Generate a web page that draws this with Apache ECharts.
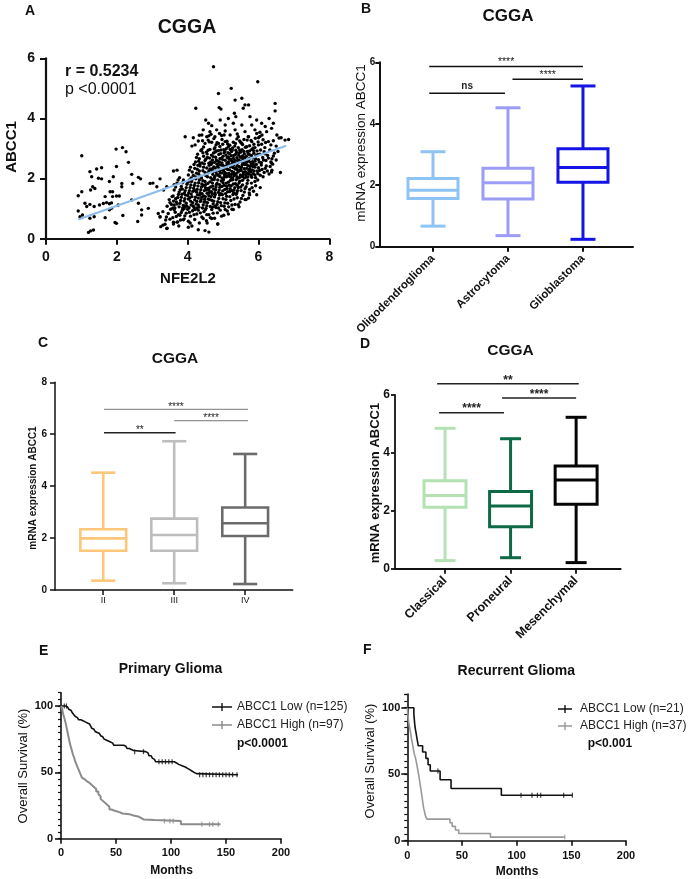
<!DOCTYPE html>
<html>
<head>
<meta charset="utf-8">
<script src="https://cdn.jsdelivr.net/npm/echarts@6/dist/echarts.min.js"></script>
<style>html,body{margin:0;padding:0;background:#fff}#c{width:693px;height:879px}</style>
</head>
<body>
<div id="c"></div>
<script>
// ---------- DATA ----------
// Panel A: NFE2L2 (x) vs ABCC1 (y)
const scatterPts = [
[1.01,2.76],[1.98,2.98],[2.16,3.03],[2.26,2.89],[1.24,2.23],[1.43,2.32],[1.57,2.36],[1.99,2.40],[2.33,2.54],[1.29,2.06],[1.48,2.01],[1.57,1.99],[1.32,1.73],[1.38,1.67],[1.26,1.62],[1.79,1.90],[1.90,2.06],[2.14,1.84],[2.14,1.73],[2.42,2.14],[2.45,1.84],[2.61,2.04],[2.67,1.99],[2.94,1.84],[3.22,1.99],[3.13,1.73],[3.41,1.73],[3.60,2.25],[3.77,2.03],[0.91,1.43],[1.01,1.56],[1.10,1.18],[1.15,1.07],[1.24,1.14],[1.67,1.40],[1.81,1.56],[1.88,1.56],[1.88,1.40],[1.99,1.42],[2.07,1.42],[1.62,1.17],[1.71,1.20],[1.79,1.16],[1.85,1.19],[1.51,1.12],[2.04,1.12],[1.36,1.07],[1.79,0.96],[1.85,1.01],[0.91,0.92],[0.96,0.73],[1.03,0.79],[1.24,0.68],[1.36,0.73],[1.67,0.70],[2.17,0.77],[2.42,1.29],[2.61,1.18],[2.70,0.96],[2.70,0.79],[2.89,1.01],[2.59,0.57],[1.95,0.54],[1.99,0.51],[1.20,0.21],[1.26,0.26],[1.34,0.29],[3.24,0.40],[3.36,0.48],[3.41,0.34],[3.60,0.49],[3.17,0.84],[3.22,0.73],[3.02,1.85],[3.32,1.62],[3.62,1.80],[3.70,2.28],[3.58,1.02],[3.70,0.55],
[4.73,5.72],[5.98,5.22],[5.23,5.00],[4.87,4.83],[4.23,4.34],[4.89,4.36],[4.94,4.31],[5.34,4.61],[5.53,4.67],[5.62,4.45],[5.72,4.45],[5.57,4.34],[5.32,4.17],[5.36,4.06],[6.47,4.50],[6.47,4.25],[5.76,4.06],[5.95,3.95],[6.09,3.84],[6.30,4.00],[6.42,3.84],[4.51,3.95],[4.59,3.84],[4.92,3.95],[5.15,4.00],[4.68,3.76],[5.06,3.78],[5.29,3.84],[5.53,3.78],[5.81,3.78],[6.19,3.73],[6.37,3.67],[4.44,3.62],[4.63,3.56],[4.82,3.62],[5.06,3.58],[5.34,3.62],[5.62,3.56],[5.90,3.62],[6.04,3.54],[6.23,3.56],[3.93,3.39],[4.16,3.36],[4.40,3.45],[4.54,3.39],[4.77,3.39],[4.96,3.43],[5.20,3.45],[5.43,3.39],[5.72,3.39],[6.00,3.36],[6.52,3.45],[6.64,3.36],[6.75,3.28],[4.21,3.12],[4.49,3.17],[4.68,3.21],[4.87,3.17],[5.06,3.23],[5.29,3.21],[5.53,3.17],[5.81,3.23],[6.09,3.14],[6.28,3.23],[4.77,3.03],[5.15,3.06],[5.43,3.03],[5.67,3.06],[5.90,3.03],[6.85,3.30],[6.62,2.20],[6.40,2.48],
[4.12,3.08],[4.33,3.44],[4.42,3.26],[4.61,3.22],[4.66,3.47],[4.74,3.33],[4.83,3.19],[4.91,3.07],[4.99,3.14],[5.03,3.45],[5.11,3.24],[5.19,3.11],[5.27,3.02],[5.35,3.17],[5.39,3.32],[5.47,3.25],[5.55,3.13],[5.59,3.30],[5.63,3.04],[5.71,3.39],[5.75,3.09],[5.79,3.27],[5.87,3.14],[5.91,3.34],[5.99,3.22],[6.04,3.40],[6.13,3.29],[6.18,3.03],[6.35,3.12],[6.42,3.26],[6.50,3.08],[6.58,3.35],
[4.45,3.05],[4.58,3.28],[4.80,3.12],[4.97,3.30],[5.13,3.15],[5.33,3.08],[5.50,3.20],[5.68,3.28],[5.85,3.02],[6.00,3.12],[6.20,3.20],[4.30,3.25],[6.10,3.45],[5.95,3.50],[5.40,3.48],[4.90,3.50],[4.60,3.42],
[4.22,2.55],[4.28,2.81],[4.33,2.66],[4.37,2.93],[4.41,2.52],[4.45,2.74],[4.49,2.60],[4.53,2.88],[4.56,2.70],[4.60,2.51],[4.63,2.97],[4.67,2.78],[4.70,2.62],[4.73,2.85],[4.76,2.54],[4.79,2.71],[4.82,2.92],[4.85,2.58],[4.88,2.80],[4.91,2.66],[4.94,2.95],[4.97,2.52],[5.00,2.74],[5.03,2.86],[5.06,2.61],[5.09,2.99],[5.12,2.70],[5.15,2.55],[5.18,2.83],[5.21,2.64],[5.24,2.90],[5.27,2.50],[5.30,2.77],[5.33,2.60],[5.36,2.94],[5.39,2.69],[5.42,2.53],[5.45,2.85],[5.48,2.72],[5.51,2.57],[5.54,2.96],[5.57,2.66],[5.60,2.82],[5.63,2.51],[5.66,2.74],[5.69,2.90],[5.72,2.60],[5.75,2.79],[5.78,2.54],[5.81,2.97],[5.84,2.68],[5.87,2.84],[5.90,2.58],[5.93,2.76],[5.96,2.92],[6.00,2.63],[6.04,2.81],[6.08,2.53],[6.12,2.70],[6.16,2.89],[6.21,2.60],[6.26,2.77],[6.32,2.95],[6.38,2.66],[6.45,2.84],[4.95,2.68],[5.05,2.90],[5.15,2.72],[5.25,2.58],[5.35,2.80],[5.45,2.62],[5.55,2.75],[5.65,2.58],[5.75,2.92],[4.75,2.98],[4.65,2.55],[5.85,2.50],[5.20,2.97],[5.50,2.88],[4.55,2.82],
[4.31,2.58],[4.43,2.86],[4.51,2.64],[4.58,2.94],[4.62,2.68],[4.69,2.52],[4.72,2.73],[4.78,2.88],[4.81,2.62],[4.87,2.93],[4.90,2.55],[4.93,2.83],[4.99,2.63],[5.02,2.96],[5.08,2.78],[5.11,2.52],[5.14,2.86],[5.17,2.65],[5.23,2.76],[5.26,2.95],[5.29,2.67],[5.32,2.54],[5.38,2.87],[5.41,2.60],[5.44,2.78],[5.47,2.95],[5.53,2.68],[5.56,2.53],[5.59,2.90],[5.62,2.70],[5.68,2.55],[5.71,2.83],[5.74,2.66],[5.80,2.77],[5.83,2.56],[5.86,2.93],[5.92,2.65],[5.98,2.80],[6.02,2.55],[6.06,2.95],[6.14,2.62],[6.19,2.82],[6.28,2.68],[6.35,2.55],[6.42,2.75],[6.50,2.62],[6.55,2.90],[4.25,2.70],[4.35,2.50],[4.40,2.97],
[4.02,2.12],[4.08,2.38],[4.13,2.22],[4.18,2.47],[4.23,2.05],[4.27,2.31],[4.31,2.15],[4.35,2.42],[4.39,2.02],[4.43,2.26],[4.47,2.49],[4.51,2.10],[4.54,2.35],[4.58,2.19],[4.61,2.44],[4.65,2.03],[4.68,2.28],[4.71,2.14],[4.74,2.39],[4.77,2.07],[4.80,2.23],[4.83,2.48],[4.86,2.11],[4.89,2.33],[4.92,2.18],[4.95,2.45],[4.98,2.01],[5.01,2.27],[5.04,2.13],[5.07,2.40],[5.10,2.06],[5.13,2.30],[5.16,2.17],[5.19,2.46],[5.22,2.04],[5.25,2.24],[5.28,2.37],[5.31,2.09],[5.34,2.32],[5.37,2.16],[5.40,2.43],[5.43,2.02],[5.46,2.26],[5.49,2.12],[5.52,2.38],[5.55,2.07],[5.58,2.21],[5.61,2.47],[5.64,2.13],[5.67,2.34],[5.70,2.05],[5.73,2.27],[5.76,2.41],[5.79,2.10],[5.82,2.29],[5.85,2.16],[5.88,2.44],[5.92,2.03],[5.96,2.25],[6.00,2.36],[6.05,2.11],[6.10,2.30],[6.16,2.20],[6.22,2.42],[6.30,2.15],[6.38,2.28],[4.70,2.33],[4.90,2.25],[5.10,2.40],[5.30,2.20],[5.50,2.32],[5.70,2.18],[5.90,2.38],[4.60,2.25],[5.20,2.12],[5.40,2.30],[5.60,2.02],[4.85,2.40],[5.05,2.20],[5.80,2.48],
[4.05,2.28],[4.16,2.10],[4.20,2.34],[4.29,2.44],[4.33,2.25],[4.37,2.08],[4.45,2.38],[4.49,2.20],[4.56,2.06],[4.63,2.32],[4.66,2.47],[4.72,2.22],[4.75,2.03],[4.78,2.35],[4.82,2.15],[4.88,2.46],[4.91,2.07],[4.94,2.30],[4.97,2.19],[5.00,2.44],[5.03,2.04],[5.06,2.34],[5.09,2.16],[5.12,2.48],[5.15,2.08],[5.18,2.29],[5.21,2.39],[5.24,2.14],[5.27,2.02],[5.30,2.45],[5.33,2.13],[5.36,2.36],[5.39,2.06],[5.42,2.22],[5.45,2.40],[5.48,2.04],[5.51,2.27],[5.54,2.46],[5.57,2.14],[5.60,2.33],[5.63,2.23],[5.66,2.05],[5.69,2.44],[5.72,2.15],[5.75,2.32],[5.78,2.22],[5.81,2.04],[5.84,2.40],[5.87,2.25],[5.90,2.12],[5.94,2.47],[5.98,2.17],[6.03,2.27],[6.08,2.45],[6.13,2.06],[6.19,2.34],[6.25,2.25],[6.33,2.40],[4.10,2.02],[4.25,2.18],
[3.62,1.62],[3.70,1.85],[3.76,1.55],[3.82,1.74],[3.88,1.95],[3.93,1.60],[3.98,1.81],[4.03,1.52],[4.07,1.70],[4.11,1.90],[4.15,1.58],[4.19,1.77],[4.23,1.99],[4.27,1.64],[4.31,1.86],[4.35,1.53],[4.39,1.72],[4.43,1.93],[4.47,1.60],[4.51,1.80],[4.55,1.51],[4.59,1.68],[4.63,1.89],[4.67,1.56],[4.71,1.75],[4.75,1.97],[4.79,1.63],[4.83,1.84],[4.87,1.54],[4.91,1.71],[4.95,1.92],[4.99,1.59],[5.03,1.78],[5.07,1.50],[5.11,1.67],[5.15,1.88],[5.19,1.57],[5.23,1.76],[5.27,1.96],[5.31,1.62],[5.35,1.83],[5.39,1.53],[5.43,1.70],[5.47,1.91],[5.51,1.60],[5.55,1.79],[5.60,1.55],[5.65,1.73],[5.70,1.94],[5.75,1.64],[5.80,1.85],[5.86,1.58],[5.92,1.76],[5.98,1.95],[6.05,1.70],[4.40,1.82],[4.60,1.62],[4.80,1.72],[5.00,1.86],[5.20,1.66],[5.40,1.78],[4.50,1.70],[4.90,1.80],[5.30,1.52],[4.20,1.60],[4.70,1.85],[5.10,1.75],[3.85,1.65],[4.05,1.95],
[3.66,1.72],[3.73,1.95],[3.79,1.63],[3.86,1.86],[3.91,1.52],[3.96,1.70],[4.01,1.88],[4.05,1.60],[4.09,1.79],[4.13,1.98],[4.17,1.68],[4.21,1.85],[4.25,1.55],[4.29,1.75],[4.33,1.95],[4.37,1.63],[4.41,1.50],[4.45,1.78],[4.49,1.90],[4.53,1.62],[4.57,1.84],[4.61,1.53],[4.65,1.72],[4.69,1.96],[4.73,1.65],[4.77,1.53],[4.81,1.80],[4.85,1.95],[4.89,1.62],[4.93,1.50],[4.97,1.74],[5.01,1.96],[5.05,1.64],[5.09,1.85],[5.13,1.56],[5.17,1.78],[5.21,1.94],[5.25,1.60],[5.29,1.82],[5.33,1.70],[5.37,1.96],[5.41,1.60],[5.45,1.85],[5.50,1.72],[5.55,1.94],[5.62,1.66],[5.68,1.84],[5.74,1.52],[5.82,1.70],[5.90,1.90],
[3.42,1.08],[3.48,1.30],[3.54,1.14],[3.59,1.42],[3.64,1.02],[3.68,1.22],[3.72,1.37],[3.76,1.06],[3.80,1.27],[3.84,1.48],[3.88,1.11],[3.92,1.33],[3.96,1.18],[4.00,1.44],[4.04,1.03],[4.08,1.25],[4.12,1.40],[4.16,1.09],[4.20,1.29],[4.24,1.15],[4.28,1.46],[4.32,1.05],[4.36,1.24],[4.40,1.38],[4.44,1.12],[4.48,1.31],[4.52,1.01],[4.56,1.20],[4.60,1.43],[4.64,1.07],[4.68,1.28],[4.72,1.16],[4.76,1.39],[4.80,1.04],[4.85,1.23],[4.90,1.45],[4.95,1.10],[5.00,1.33],[5.05,1.19],[5.10,1.41],[5.16,1.06],[5.22,1.27],[5.28,1.47],[5.34,1.14],[5.40,1.36],[5.48,1.22],[5.56,1.44],[5.65,1.30],[5.75,1.46],[3.90,1.00],[4.10,1.12],[4.30,1.35],[4.50,1.22],[4.70,1.48],[3.70,1.15],[4.02,1.32],[4.26,1.02],[4.45,1.42],[3.60,1.25],[4.62,1.30],
[3.50,1.20],[3.56,1.40],[3.62,1.12],[3.66,1.33],[3.74,1.47],[3.78,1.18],[3.82,1.38],[3.86,1.02],[3.90,1.25],[3.94,1.45],[3.98,1.08],[4.06,1.36],[4.10,1.49],[4.14,1.20],[4.18,1.04],[4.22,1.38],[4.26,1.24],[4.30,1.12],[4.34,1.45],[4.38,1.30],[4.42,1.02],[4.46,1.22],[4.50,1.40],[4.54,1.10],[4.58,1.32],[4.66,1.40],[4.70,1.05],[4.74,1.25],[4.78,1.47],[4.83,1.14],[4.88,1.34],[4.93,1.20],[4.98,1.46],[5.03,1.08],[5.08,1.30],[5.13,1.18],[5.19,1.40],[5.25,1.12],[5.31,1.32],[5.37,1.48],[5.45,1.06],[5.52,1.34],
[3.22,0.72],[3.30,0.90],[3.38,0.62],[3.45,0.84],[3.52,0.98],[3.58,0.70],[3.65,0.88],[3.72,0.56],[3.78,0.78],[3.85,0.95],[3.90,0.66],[3.96,0.85],[4.02,0.58],[4.08,0.75],[4.14,0.93],[4.20,0.64],[4.26,0.82],[4.33,0.52],[4.40,0.72],[4.46,0.90],[4.53,0.60],[4.60,0.80],[4.68,0.97],[4.76,0.68],[4.84,0.86],[4.92,0.95],[5.02,0.78],[5.12,0.92],[5.25,0.98],[3.60,0.55],[4.00,0.98],[4.30,0.95],[4.55,0.52],[3.80,0.62],
[3.40,0.72],[3.50,0.65],[3.62,0.96],[3.68,0.74],[3.82,0.87],[3.92,0.76],[4.05,0.88],[4.18,0.80],[4.36,0.86],[4.50,0.96],[4.64,0.70],[4.72,0.85],[4.96,0.75],[5.15,0.82],
[3.30,0.45],[3.42,0.35],[4.02,0.38],[4.12,0.42],[4.49,0.27],[4.60,0.22],[4.85,0.49],[3.75,0.42],[4.30,0.30],
[6.37,2.52],[6.37,2.22],[5.95,1.46],[5.72,1.35],[5.62,1.30],[5.43,1.13],[5.29,0.97],[5.06,0.97],[4.87,1.02],[4.77,1.08],[4.54,0.80],[4.68,0.67],[4.44,0.67],[4.85,0.49],[4.07,0.52],[3.88,0.63],[3.74,0.80],[4.21,0.97],[3.93,1.08]
];
const regLine = [[0.91,0.64],[6.78,3.09]];

// Panel B
const bCats = ['Oligodendroglioma','Astrocytoma','Glioblastoma'];
const bStats = [[0.67,1.57,1.84,2.22,3.09],[0.36,1.55,2.08,2.55,4.52],[0.24,2.10,2.58,3.19,5.23]];
const bSig = [[-0.05,2.0,5.86],[1.06,2.0,5.45],[-0.05,0.96,4.99]];
const bSigText = ['****','****','ns'];

// Panel C
const cCats = ['II','III','IV'];
const cStats = [[0.36,1.51,1.99,2.34,4.52],[0.26,1.51,2.12,2.75,5.73],[0.23,2.08,2.57,3.18,5.24]];
const cSig = [[0.01,2.04,6.96],[1.0,2.04,6.52],[0.01,1.02,6.06]];
const cSigText = ['****','****','**'];

// Panel D
const dCats = ['Classical','Proneural','Mesenchymal'];
const dStats = [[0.28,2.12,2.53,3.04,4.85],[0.38,1.45,2.17,2.67,4.49],[0.21,2.23,3.06,3.55,5.23]];
const dSig = [[-0.12,2.04,6.39],[0.87,2.0,5.90],[-0.09,0.9,5.39]];
const dSigText = ['**','****','****'];

// Panel E: primary glioma KM (months, survival %)
const eLow = [[0,100],[4,99.2],[6,98.4],[7,97.6],[8,96.8],[9,96],[10,95.2],[11,94.4],[11.5,93.6],[12,92.8],[13,92],[14,91.2],[15,90.4],[16,89.6],[18,88.8],[20,88],[22,87.2],[24,86.4],[26,85.6],[27,84.8],[27.5,84],[28,83.2],[29,82.4],[30,81.6],[31,80.8],[32,80],[33,79.2],[35,78.4],[36,77.6],[37,76.8],[38,76],[39,75.2],[40,74.4],[41,73.6],[43,72.8],[45,72],[47,71.2],[48,70.4],[57,69.6],[59,68.8],[60,68],[62,67.2],[64,66.4],[66,65.6],[77,64.8],[79,63.9],[80,62.5],[82,61.6],[83,60.7],[84,59.8],[85,58.9],[86,58],[103,57],[105,56],[107,55],[110,54],[113,53],[115,52],[117,51],[119,50],[121,49],[123,48.2],[161,48.2]];
const eHigh = [[0,100],[1,98],[2,94],[3,91],[4,88],[5,84],[6,80],[7,76],[8,72],[9,69],[10,66],[11,63],[12,61],[13,58],[14,56],[15,54],[16,52],[17,50],[18,48],[19,46],[20,44.5],[22,43],[24,42],[26,40.5],[28,39],[30,37.5],[32,35.5],[34,33.5],[35,32],[36,30],[37,28.5],[38,27],[40,25.5],[42,24],[44,22],[46,21],[49,20],[53,19],[56,18.5],[62,17.5],[66,16.5],[71,15.5],[73,14.5],[75,14],[85,13.3],[109,10.8],[145,10.8]];
const eLowCens = [[3,100],[5,100],[67,65.6],[75,65.6],[89,58],[92,58],[95,58],[98,58],[101,58],[126,48.2],[129,48.2],[132,48.2],[135,48.2],[138,48.2],[141,48.2],[144,48.2],[147,48.2],[150,48.2],[153,48.2],[156,48.2],[160,48.2]];
const eHighCens = [[94,13.3],[99,13.3],[102,13.3],[128,10.8],[135,10.8],[138,10.8],[143,10.8]];

// Panel F: recurrent glioma KM
const fLow = [[0,100],[6,95.2],[6.5,90.5],[7,85.7],[8,81],[9,76.2],[10,71.4],[14,66.7],[17,61.9],[19,57.1],[21,52.4],[30,45.8],[40,39.3],[86,34.2],[151,34.2]];
const fHigh = [[0,100],[0.3,97.3],[0.6,94.6],[0.9,91.9],[1.3,89.2],[1.8,86.5],[2.4,83.8],[3,81.1],[3.5,78.4],[4,75.7],[4.7,73],[5.3,70.3],[5.8,67.6],[6.5,64.9],[7.5,62.2],[8.2,59.5],[8.8,56.8],[9.4,54.1],[10,51.4],[10.6,48.6],[11.1,45.9],[11.6,43.2],[12.1,40.5],[12.6,37.8],[13.1,35.1],[13.6,32.4],[14,29.7],[14.5,27],[15,24.3],[15.8,21.6],[16.5,18.9],[18,16.2],[39,13.5],[41,10.8],[44,8.1],[47,5.4],[76,2.7],[144,2.7]];
const fLowCens = [[28,52.4],[104,34.2],[114,34.2],[119,34.2],[122,34.2],[143,34.2],[151,34.2]];
const fHighCens = [[144,2.7]];

const yTicksKM = [0,50,100];
const xTickLabelsBox = [0,1,2];

// ---------- CHART ----------
const FF = '"Liberation Sans", Arial, Helvetica, sans-serif';
const chart = echarts.init(document.getElementById('c'), null, {renderer:'canvas'});

function T(text, x, y, size, weight, align, rot, color){
  return {type:'text', x:x, y:y, rotation: rot||0, z:100,
    style:{text:text, font: weight+' '+size+'px '+FF, fill: color||'#111',
      align:align||'center', verticalAlign:'middle', textAlign:align||'center', textVerticalAlign:'middle'}};
}

function boxRender(colors, boxW, capW, lw){
  return function(params, api){
    const i = params.dataIndex;
    const x = api.value(0);
    const pLo = api.coord([x, api.value(1)]), pQ1 = api.coord([x, api.value(2)]),
          pMd = api.coord([x, api.value(3)]), pQ3 = api.coord([x, api.value(4)]),
          pHi = api.coord([x, api.value(5)]);
    const hw = api.size([boxW,0])[0]/2, hc = api.size([capW,0])[0]/2;
    const cx = pLo[0];
    const st = {stroke: colors[i], lineWidth: lw, fill: null};
    return {type:'group', children:[
      {type:'line', shape:{x1:cx,y1:pLo[1],x2:cx,y2:pQ1[1]}, style:st},
      {type:'line', shape:{x1:cx,y1:pQ3[1],x2:cx,y2:pHi[1]}, style:st},
      {type:'line', shape:{x1:cx-hc,y1:pLo[1],x2:cx+hc,y2:pLo[1]}, style:st},
      {type:'line', shape:{x1:cx-hc,y1:pHi[1],x2:cx+hc,y2:pHi[1]}, style:st},
      {type:'rect', shape:{x:cx-hw,y:pQ3[1],width:2*hw,height:pQ1[1]-pQ3[1]}, style:{stroke:colors[i], lineWidth:lw, fill:'#fff'}},
      {type:'line', shape:{x1:cx-hw,y1:pMd[1],x2:cx+hw,y2:pMd[1]}, style:st}
    ]};
  };
}
function sigRender(texts, styles){
  return function(params, api){
    const i = params.dataIndex;
    const s = styles[i];
    const a = api.coord([api.value(0), api.value(2)]);
    const b = api.coord([api.value(1), api.value(2)]);
    return {type:'group', children:[
      {type:'line', shape:{x1:a[0],y1:a[1],x2:b[0],y2:b[1]}, style:{stroke:s.color, lineWidth:s.lw}},
      {type:'text', x:(a[0]+b[0])/2, y:a[1]-s.gap, style:{text:texts[i], font:s.font, fill:s.tcolor||'#222',
        align:'center', verticalAlign:'middle', textAlign:'center', textVerticalAlign:'middle'}}
    ]};
  };
}

const axLine = (w) => ({show:true, onZero:false, lineStyle:{color:'#111', width:w}});
const tick = (len, w) => ({show:true, length:len, lineStyle:{color:'#111', width:w}});
const lab = (size, margin, extra) => Object.assign({color:'#111', fontSize:size, fontWeight:'bold', fontFamily:FF, margin:margin}, extra||{});

const ICON20 = 'path://M0,3.3h20v1.4h-20z M9.3,0h1.4v8h-1.4z';
const ICON14 = 'path://M0,3.3h14v1.4h-14z M6.3,0h1.4v8h-1.4z';

const option = {
  animation:false,
  backgroundColor:'#fff',
  textStyle:{fontFamily:FF},
  grid:[
    {left:46, top:58.3, width:283.3, height:180.4},
    {left:379.3, top:62.3, width:253.7, height:184.4},
    {left:55, top:382.3, width:237.7, height:207.7},
    {left:395, top:395, width:225.7, height:173.7},
    {left:61, top:692.7, width:220, height:146},
    {left:407.3, top:694, width:218.7, height:146.7}
  ],
  xAxis:[
    {gridIndex:0, type:'value', min:0, max:8, interval:2, axisLine:axLine(2.2), axisTick:tick(6,2), axisLabel:lab(14,11), splitLine:{show:false}},
    {gridIndex:1, type:'value', min:-0.716, max:2.667, axisLine:axLine(2), axisTick:Object.assign(tick(5,2),{customValues:xTickLabelsBox}),
      axisLabel:lab(11.5,10,{customValues:xTickLabelsBox, rotate:45, formatter:v=>bCats[Math.round(v)]}), splitLine:{show:false}},
    {gridIndex:2, type:'value', min:-0.68, max:2.67, axisLine:axLine(1.5), axisTick:Object.assign(tick(5,1.5),{customValues:xTickLabelsBox}),
      axisLabel:lab(9,6,{customValues:xTickLabelsBox, fontWeight:'normal', formatter:v=>cCats[Math.round(v)]}), splitLine:{show:false}},
    {gridIndex:3, type:'value', min:-0.763, max:2.68, axisLine:axLine(1.8), axisTick:Object.assign(tick(5,1.8),{customValues:xTickLabelsBox}),
      axisLabel:lab(12.5,10,{customValues:xTickLabelsBox, rotate:45, formatter:v=>dCats[Math.round(v)]}), splitLine:{show:false}},
    {gridIndex:4, type:'value', min:0, max:200, interval:50, axisLine:axLine(1.6), axisTick:tick(5,1.6), axisLabel:lab(11,9), splitLine:{show:false}},
    {gridIndex:5, type:'value', min:0, max:200, interval:50, axisLine:axLine(1.6), axisTick:tick(5,1.6), axisLabel:lab(11,10), splitLine:{show:false}}
  ],
  yAxis:[
    {gridIndex:0, type:'value', min:0, max:6, interval:2, axisLine:axLine(2.2), axisTick:tick(6,2), axisLabel:lab(14,11), splitLine:{show:false}},
    {gridIndex:1, type:'value', min:0, max:6, interval:2, axisLine:axLine(2), axisTick:tick(4,2), axisLabel:lab(10,4), splitLine:{show:false}},
    {gridIndex:2, type:'value', min:0, max:8, interval:2, axisLine:axLine(1.5), axisTick:tick(5,1.5), axisLabel:lab(10,8), splitLine:{show:false}},
    {gridIndex:3, type:'value', min:0, max:6, interval:2, axisLine:axLine(1.8), axisTick:tick(4,1.8), axisLabel:lab(12,5), splitLine:{show:false}},
    {gridIndex:4, type:'value', min:0, max:110, interval:50, axisLine:axLine(1.6), axisTick:Object.assign(tick(6,1.6),{customValues:yTicksKM}),
      axisLabel:lab(11,8,{customValues:yTicksKM}), splitLine:{show:false}},
    {gridIndex:5, type:'value', min:0, max:110.3, interval:50, axisLine:axLine(1.6), axisTick:Object.assign(tick(6,1.6),{customValues:yTicksKM}),
      axisLabel:lab(11,7,{customValues:yTicksKM}), splitLine:{show:false}},
    {gridIndex:4, type:'value', position:'left', offset:0, min:0, max:110, interval:5, axisLine:{show:false, onZero:false}, axisTick:tick(3,1.2), axisLabel:{show:false}, splitLine:{show:false}},
    {gridIndex:5, type:'value', position:'left', offset:0, min:0, max:110.3, interval:5, axisLine:{show:false, onZero:false}, axisTick:tick(3,1.2), axisLabel:{show:false}, splitLine:{show:false}}
  ],
  legend:[
    {left:207, top:696, orient:'vertical', itemWidth:20, itemHeight:8, itemGap:6, selectedMode:false,
      data:[{name:'ABCC1 Low (n=125)', icon:ICON20},{name:'ABCC1 High (n=97)', icon:ICON20}],
      textStyle:{fontSize:12, color:'#222', fontFamily:FF}},
    {left:553, top:698, orient:'vertical', itemWidth:14, itemHeight:8, itemGap:5, selectedMode:false,
      data:[{name:'ABCC1 Low (n=21)', icon:ICON14},{name:'ABCC1 High (n=37)', icon:ICON14}],
      textStyle:{fontSize:12, color:'#222', fontFamily:FF, padding:[0,0,0,3]}}
  ],
  graphic:[
    T('A',25,11,14,'bold','left'),
    T('CGGA',187,28,19.5,'bold'),
    T('r = 0.5234',65,72,16,'bold','left'),
    T('p <0.0001',65,90,16,'normal','left'),
    T('NFE2L2',188,279,15,'bold'),
    T('ABCC1',12,147,15,'bold','center',Math.PI/2),
    T('B',361,9,14,'bold','left'),
    T('CGGA',508,16.5,17,'bold'),
    T('mRNA expression ABCC1',361.5,143,13.5,'normal','center',Math.PI/2),
    T('C',38,343,14,'bold','left'),
    T('CGGA',175,359,15.5,'bold'),
    T('mRNA expression ABCC1',33,488,10,'bold','center',Math.PI/2),
    T('D',360,344,14,'bold','left'),
    T('CGGA',510.5,350.5,15.5,'bold'),
    T('mRNA expression ABCC1',375,483,13,'bold','center',Math.PI/2),
    T('E',39,651.5,14,'bold','left'),
    T('Primary Glioma',170.5,669,14,'bold'),
    T('Overall Survival (%)',23,766,13,'normal','center',Math.PI/2),
    T('Months',171.5,871,12,'bold'),
    T('p<0.0001',237,743.5,12,'bold','left'),
    T('F',363,650,14,'bold','left'),
    T('Recurrent Glioma',516.3,671,14,'bold'),
    T('Overall Survival (%)',370,761,13,'normal','center',Math.PI/2),
    T('Months',517,871.7,12,'bold'),
    T('p<0.001',587.7,743.5,12,'bold','left')
  ],
  series:[
    {type:'scatter', xAxisIndex:0, yAxisIndex:0, data:scatterPts, symbolSize:3.4, itemStyle:{color:'#000', opacity:1}, z:2},
    {type:'line', xAxisIndex:0, yAxisIndex:0, data:regLine, symbol:'none', lineStyle:{color:'#8dbbea', width:2}, z:5},

    {type:'custom', xAxisIndex:1, yAxisIndex:1, data:bStats.map((s,i)=>[i].concat(s)), encode:{x:0,y:[1,2,3,4,5]},
      renderItem:boxRender(['#8ec3f5','#9c9cf7','#1414e6'],0.667,0.333,3)},
    {type:'custom', xAxisIndex:1, yAxisIndex:1, data:bSig, encode:{x:[0,1],y:2}, clip:false,
      renderItem:sigRender(bSigText,[
        {color:'#111',lw:1.5,gap:4.5,font:'normal 10.5px '+FF},
        {color:'#111',lw:1.5,gap:4.5,font:'normal 10.5px '+FF},
        {color:'#111',lw:1.5,gap:7,font:'bold 10px '+FF}])},

    {type:'custom', xAxisIndex:2, yAxisIndex:2, data:cStats.map((s,i)=>[i].concat(s)), encode:{x:0,y:[1,2,3,4,5]},
      renderItem:boxRender(['#fdc679','#bdbdbd','#6b6b6b'],0.645,0.34,2.6)},
    {type:'custom', xAxisIndex:2, yAxisIndex:2, data:cSig, encode:{x:[0,1],y:2}, clip:false,
      renderItem:sigRender(cSigText,[
        {color:'#777',lw:1,gap:2.5,font:'normal 10px '+FF},
        {color:'#777',lw:1,gap:2.5,font:'normal 10px '+FF},
        {color:'#222',lw:1.5,gap:2.5,font:'normal 10px '+FF}])},

    {type:'custom', xAxisIndex:3, yAxisIndex:3, data:dStats.map((s,i)=>[i].concat(s)), encode:{x:0,y:[1,2,3,4,5]},
      renderItem:boxRender(['#b4e2b2','#0d6a45','#050505'],0.64,0.32,3)},
    {type:'custom', xAxisIndex:3, yAxisIndex:3, data:dSig, encode:{x:[0,1],y:2}, clip:false,
      renderItem:sigRender(dSigText,[
        {color:'#222',lw:1.5,gap:3.5,font:'bold 12px '+FF},
        {color:'#222',lw:1.5,gap:3.5,font:'bold 12px '+FF},
        {color:'#222',lw:1.5,gap:3.5,font:'bold 12px '+FF}])},

    {type:'line', name:'ABCC1 Low (n=125)', xAxisIndex:4, yAxisIndex:4, data:eLow, step:'end', symbol:'none', itemStyle:{color:'#111'}, lineStyle:{color:'#111', width:1.6}},
    {type:'line', name:'ABCC1 High (n=97)', xAxisIndex:4, yAxisIndex:4, data:eHigh, step:'end', symbol:'none', itemStyle:{color:'#8c8c8c'}, lineStyle:{color:'#8c8c8c', width:2}},
    {type:'scatter', xAxisIndex:4, yAxisIndex:4, data:eLowCens, symbol:'rect', symbolSize:[1.2,5], itemStyle:{color:'#111'}},
    {type:'scatter', xAxisIndex:4, yAxisIndex:4, data:eHighCens, symbol:'rect', symbolSize:[1.2,5], itemStyle:{color:'#8c8c8c'}},

    {type:'line', name:'ABCC1 Low (n=21)', xAxisIndex:5, yAxisIndex:5, data:fLow, step:'end', symbol:'none', itemStyle:{color:'#111'}, lineStyle:{color:'#111', width:1.6}},
    {type:'line', name:'ABCC1 High (n=37)', xAxisIndex:5, yAxisIndex:5, data:fHigh, step:'end', symbol:'none', itemStyle:{color:'#999'}, lineStyle:{color:'#999', width:1.6}},
    {type:'scatter', xAxisIndex:5, yAxisIndex:5, data:fLowCens, symbol:'rect', symbolSize:[1.2,5], itemStyle:{color:'#111'}},
    {type:'scatter', xAxisIndex:5, yAxisIndex:5, data:fHighCens, symbol:'rect', symbolSize:[1.2,5], itemStyle:{color:'#999'}}
  ]
};
chart.setOption(option);
</script>
</body>
</html>
